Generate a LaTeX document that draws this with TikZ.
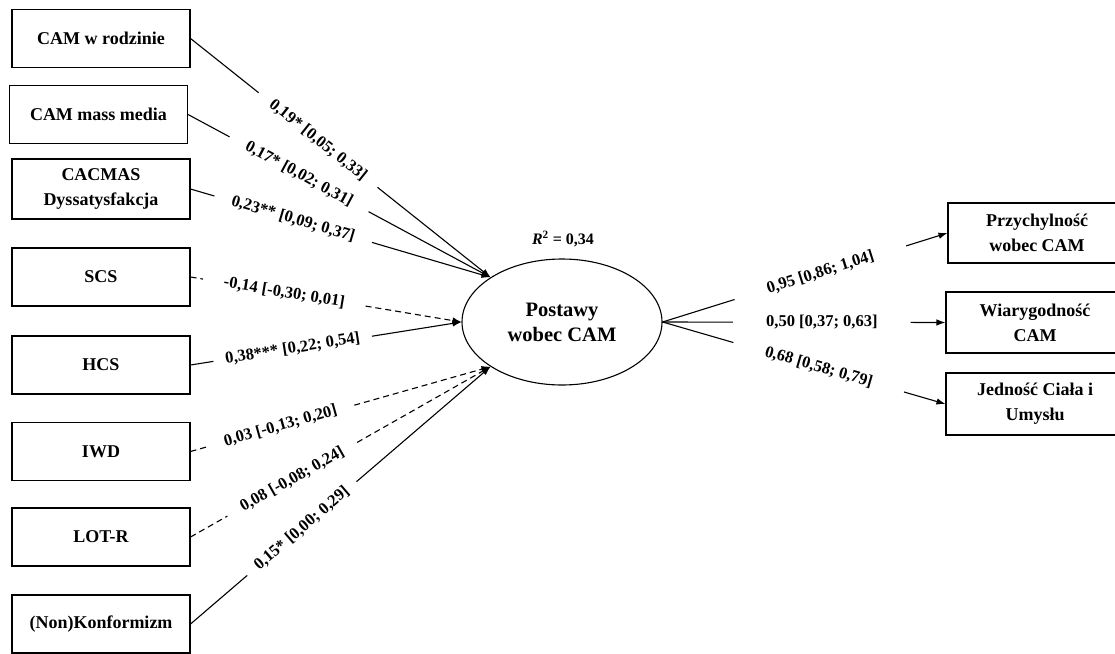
\documentclass[tikz,border=0pt]{standalone}
\usepackage{fontspec}
\setmainfont{Liberation Serif}
\usetikzlibrary{arrows.meta,shapes.geometric}

\begin{document}
\begin{tikzpicture}[x=1pt,y=-1pt,
  regbox/.style={draw, line width=1.1pt, minimum width=178pt, minimum height=58pt,
    inner sep=0pt, align=center, font=\bfseries\fontsize{18}{25}\selectfont},
  latent/.style={ellipse, draw, line width=1.1pt, minimum width=200pt,
    minimum height=126pt, inner sep=0pt, align=center,
    font=\bfseries\fontsize{20.5}{25}\selectfont},
  coef/.style={sloped, inner ysep=2pt, inner xsep=#1,
    font=\bfseries\fontsize{16.5}{18}\selectfont},
  coef/.default=17pt,
  lnk/.style={line width=1.1pt},
  nsig/.style={dash pattern=on 6pt off 4pt},
  headed/.style={-{Latex[length=9pt,width=6.5pt]}}
]
\useasboundingbox (0,0) rectangle (1115,653);
\clip (0,0) rectangle (1115,653);

% predictors
\node[regbox] (b1) at (101,38.5)  {CAM w rodzinie};
\node[regbox] (b2) at (98.5,114.5) {CAM mass media};
\node[regbox, minimum height=60pt] (b3) at (101,189) {CACMAS\\Dyssatysfakcja};
\node[regbox] (b4) at (101,277)   {SCS};
\node[regbox] (b5) at (101,365)   {HCS};
\node[regbox] (b6) at (101,451.5) {IWD};
\node[regbox] (b7) at (101,537)   {LOT-R};
\node[regbox] (b8) at (101,624)   {(Non)Konformizm};

% latent variable
\node[latent] (e) at (562,322) {Postawy\\wobec CAM};
\node[font=\bfseries\fontsize{16}{18}\selectfont] (rsq) at (563,239)
  {\textit{R}\textsuperscript{2} = 0,34};

% indicators
\node[regbox, minimum height=60pt] (r1) at (1037,233)   {Przychylność\\wobec CAM};
\node[regbox, minimum height=61pt] (r2) at (1035,322.5) {Wiarygodność\\CAM};
\node[regbox, minimum height=62pt] (r3) at (1035,404)   {Jedność Ciała i\\Umysłu};

% structural paths
\path (b1.east) -- node[coef=16pt, pos=0.425] (c1) {0,19* [0,05; 0,33]} (e.148);
\draw[lnk] (b1.east) -- (c1);
\draw[lnk, headed] (c1) -- (e.148);

\path (b2.east) -- node[coef=19pt, pos=0.367] (c2) {0,17* [0,02; 0,31]} (e.148);
\draw[lnk] (b2.east) -- (c2);
\draw[lnk, headed] (c2) -- (e.148);

\path (b3.east) -- node[coef=18pt, pos=0.342] (c3) {0,23** [0,09; 0,37]} (e.148);
\draw[lnk] (b3.east) -- (c3);
\draw[lnk, headed] (c3) -- (e.148);

\path (b4.east) -- node[coef=21pt, pos=0.346] (c4) {-0,14 [-0,30; 0,01]} (e.180);
\draw[lnk, nsig] (b4.east) -- (c4);
\draw[lnk, nsig, headed] (c4) -- (e.180);

\path (b5.east) -- node[coef=12pt, pos=0.377] (c5) {0,38*** [0,22; 0,54]} (e.180);
\draw[lnk] (b5.east) -- (c5);
\draw[lnk, headed] (c5) -- (e.180);

\path (b6.east) -- node[coef=18pt, pos=0.30] (c6) {0,03 [-0,13; 0,20]} (e.212);
\draw[lnk, nsig] (b6.east) -- (c6);
\draw[lnk, nsig, headed] (c6) -- (e.212);

\path (b7.east) -- node[coef=16pt, pos=0.339] (c7) {0,08 [-0,08; 0,24]} (e.212);
\draw[lnk, nsig] (b7.east) -- (c7);
\draw[lnk, nsig, headed] (c7) -- (e.212);

\path (b8.east) -- node[coef=12pt, pos=0.371] (c8) {0,15* [0,00; 0,29]} (e.212);
\draw[lnk] (b8.east) -- (c8);
\draw[lnk, headed] (c8) -- (e.212);

% measurement paths
\path (e.0) -- node[coef=34pt, pos=0.554] (m1) {0,95 [0,86; 1,04]} (r1.west);
\draw[lnk] (e.0) -- (m1);
\draw[lnk, headed] (m1) -- (r1.west);

\path (e.0) -- node[coef=33pt, pos=0.563] (m2) {0,50 [0,37; 0,63]} (r2.west);
\draw[lnk] (e.0) -- (m2);
\draw[lnk, headed] (m2) -- (r2.west);

\path (e.0) -- node[coef=33pt, pos=0.552] (m3) {0,68 [0,58; 0,79]} (r3.west);
\draw[lnk] (e.0) -- (m3);
\draw[lnk, headed] (m3) -- (r3.west);
\end{tikzpicture}
\end{document}
